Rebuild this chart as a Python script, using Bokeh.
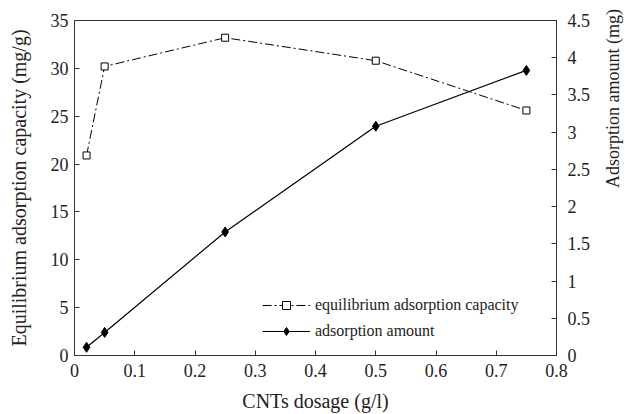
from bokeh.plotting import figure
from bokeh.models import LinearAxis, Range1d, Legend, LegendItem, FixedTicker, Label
from bokeh.embed import file_html
from bokeh.resources import INLINE
import math

dosage = [0.02, 0.05, 0.25, 0.5, 0.75]
capacity = [20.9, 30.2, 33.2, 30.8, 25.6]
amount = [0.11, 0.31, 1.66, 3.08, 3.83]

x_ticks = [0, 0.1, 0.2, 0.3, 0.4, 0.5, 0.6, 0.7, 0.8]
y_ticks = [0, 5, 10, 15, 20, 25, 30, 35]
y2_ticks = [0, 0.5, 1, 1.5, 2, 2.5, 3, 3.5, 4, 4.5]

FONT = "Liberation Serif"
TXT = "#222222"
LINE = "#333333"

p = figure(width=636, height=414, output_backend="svg", toolbar_location=None,
           x_range=Range1d(0, 0.8), y_range=Range1d(0, 35),
           min_border_left=74, min_border_right=73, min_border_top=20, min_border_bottom=59)
p.extra_y_ranges = {"y2": Range1d(0, 4.5)}
p.grid.visible = False
p.outline_line_color = LINE

xa = p.xaxis[0]
ya = p.yaxis[0]
ya2 = LinearAxis(y_range_name="y2")

p.xaxis.axis_label_text_font = FONT
p.yaxis.axis_label_text_font = FONT
p.xaxis.major_label_text_font = FONT
p.yaxis.major_label_text_font = FONT
ya2.major_label_text_font = FONT
ya2.axis_label_text_font = FONT

for ax, ticks in ((xa, x_ticks), (ya, y_ticks), (ya2, y2_ticks)):
    ax.ticker = FixedTicker(ticks=ticks)
    ax.major_label_text_font_size = "18px"
    ax.major_label_text_color = TXT
    ax.major_tick_in = 5
    ax.major_tick_out = 0
    ax.minor_tick_in = 0
    ax.minor_tick_out = 0
    ax.axis_line_color = LINE
    ax.major_tick_line_color = LINE

for ax, label, size in ((xa, "CNTs dosage (g/l)", "20px"),
                        (ya, "Equilibrium adsorption capacity (mg/g)", "20px"),
                        (ya2, "Adsorption amount (mg)", "18px")):
    ax.axis_label = label
    ax.axis_label_text_font_size = size
    ax.axis_label_text_font_style = "normal"
    ax.axis_label_text_color = TXT

xa.major_label_standoff = 8
xa.axis_label_standoff = 10
xa.major_label_overrides = {0: "0"}
ya.major_label_standoff = 6
ya.axis_label_standoff = 18
ya2.major_label_standoff = 11
ya2.axis_label_standoff = 20
ya2.major_label_overrides = {0: "0", 1: "1", 2: "2", 3: "3", 4: "4"}
ya2.axis_label_orientation = math.pi / 2
p.add_layout(ya2, "right")

# an (empty) annotation set in the same face
p.add_layout(Label(x=0, y=0, x_units="screen", y_units="screen", text=" ",
                   text_font=FONT, text_font_size="16px"))

l1 = p.line(dosage, capacity, line_color="black", line_width=1, line_dash="9 3 2 3")
m1 = p.scatter(dosage, capacity, marker="square", size=7, fill_color="white",
               line_color="black", line_width=1)
l2 = p.line(dosage, amount, y_range_name="y2", line_color="black", line_width=1.2)
m2 = p.scatter(dosage, amount, y_range_name="y2", marker="diamond", size=10,
               fill_color="black", line_color="black")

legend = Legend(items=[LegendItem(label="equilibrium adsorption capacity", renderers=[l1, m1]),
                       LegendItem(label="adsorption amount", renderers=[l2, m2])],
                location=(188, 14), glyph_width=48, glyph_height=20, label_height=20,
                spacing=6, padding=0, margin=0, label_standoff=5,
                label_text_font=FONT, label_text_font_size="16px", label_text_color=TXT,
                border_line_color=None, background_fill_alpha=0)
p.add_layout(legend, "center")

open("out.html", "w").write(file_html(p, INLINE))
